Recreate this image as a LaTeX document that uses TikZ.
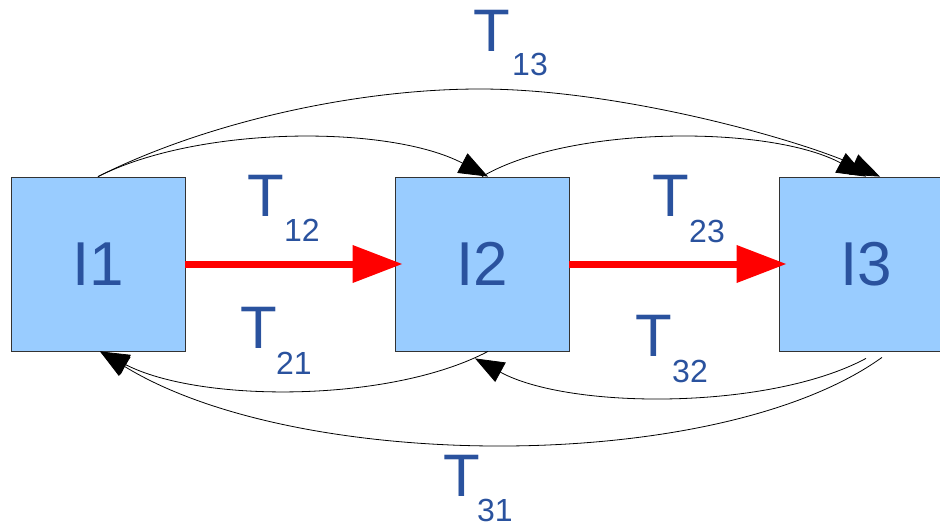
\documentclass[tikz,border=0pt]{standalone}
\usepackage{fontspec}
\setmainfont{Liberation Sans}
\usetikzlibrary{arrows.meta}
\definecolor{txt}{HTML}{2A529E}
\definecolor{boxfill}{HTML}{99CCFF}
\definecolor{boxline}{HTML}{333333}
\begin{document}
\begin{tikzpicture}[x=1pt,y=-1pt,
  box/.style={draw=boxline, line width=0.8pt, fill=boxfill, minimum size=174pt, inner sep=0pt,
    font=\fontsize{62}{62}\selectfont, text=txt},
  lbl/.style={font=\fontsize{60}{60}\selectfont, text=txt, inner sep=0pt},
  sublbl/.style={font=\fontsize{32}{32}\selectfont, text=txt, inner sep=0pt},
  flow/.style={line width=7pt, red, -{Triangle[length=50pt,width=36pt]}},
  trans/.style={line width=0.8pt, black, -{Triangle[length=29pt,width=22pt]}}]
\useasboundingbox (0,0) rectangle (940,528);
\clip (0,0) rectangle (940,528);

\node[box] (I1) at (98,264) {I1};
\node[box] (I2) at (482,264) {I2};
\node[box] (I3) at (866,264) {I3};

% red flows
\draw[flow] (I1.east) -- ([xshift=8pt]I2.west);
\draw[flow] (I2.east) -- ([xshift=8pt]I3.west);

% upper transitions
\draw[trans] (I1.north) .. controls (200,125) and (390,125) .. ([xshift=6pt]I2.north);
\draw[trans] (I1.north) .. controls (200,125) and (350,89) .. (480,89)
  .. controls (620,89) and (800,140) .. ([xshift=14pt]I3.north);
\draw[trans] (I2.north) .. controls (570,125) and (770,125) .. (I3.north);

% lower transitions
\draw[trans] ([xshift=6pt]I2.south) .. controls (390,403) and (200,403) .. ([xshift=2pt]I1.south);
\draw[trans] ([yshift=-7pt]I3.south) .. controls (770,410) and (570,410) .. ([xshift=-7pt,yshift=-7pt]I2.south);
\draw[trans] ([xshift=16pt,yshift=-6pt]I3.south) .. controls (720,474) and (300,474) .. ([xshift=2pt]I1.south);

% labels
\node[lbl] (t13) at (492,31) {T};
\node[sublbl] (s13) at (530,64) {13};
\node[lbl] (t12) at (266,196) {T};
\node[sublbl] (s12) at (302,230) {12};
\node[lbl] (t23) at (671,196) {T};
\node[sublbl] (s23) at (707,231) {23};
\node[lbl] (t21) at (259,328) {T};
\node[sublbl] (s21) at (294,363) {21};
\node[lbl] (t32) at (654,336) {T};
\node[sublbl] (s32) at (690,371) {32};
\node[lbl] (t31) at (462,476) {T};
\node[sublbl] (s31) at (495,510) {31};
\end{tikzpicture}
\end{document}
